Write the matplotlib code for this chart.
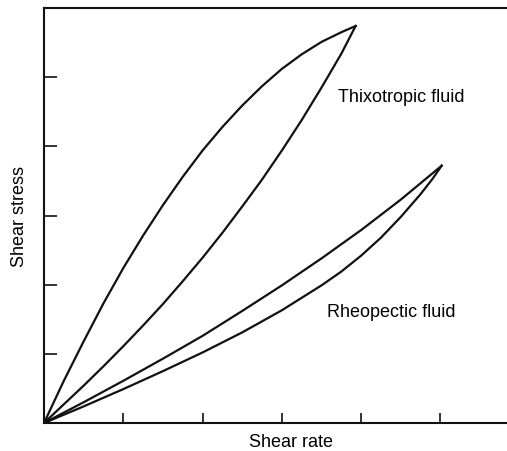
import matplotlib
matplotlib.use("Agg")
from matplotlib import pyplot as plt

plt.rcParams['font.family'] = ['Liberation Sans', 'DejaVu Sans']

# Thixotropic loop: upward (upper) and downward (lower) branch
thixo_up_x = [0.0, 0.25, 0.5, 0.75, 1.0, 1.25, 1.5, 1.75, 2.0, 2.25, 2.5,
              2.75, 3.0, 3.25, 3.5, 3.75, 3.93]
thixo_up_y = [0.0, 0.61, 1.18, 1.73, 2.24, 2.71, 3.15, 3.56, 3.94, 4.28, 4.59,
              4.87, 5.12, 5.33, 5.51, 5.65, 5.74]
thixo_down_x = [0.0, 0.25, 0.5, 0.75, 1.0, 1.25, 1.5, 1.75, 2.0, 2.25, 2.5,
                2.75, 3.0, 3.25, 3.5, 3.75, 3.93]
thixo_down_y = [0.0, 0.27, 0.54, 0.82, 1.11, 1.41, 1.72, 2.05, 2.39, 2.75, 3.13,
                3.52, 3.94, 4.38, 4.85, 5.34, 5.74]

# Rheopectic loop
rheo_up_x = [0.0, 0.5, 1.0, 1.5, 2.0, 2.5, 3.0, 3.5, 4.0, 4.5, 5.015]
rheo_up_y = [0.0, 0.30, 0.61, 0.93, 1.26, 1.62, 1.99, 2.38, 2.79, 3.23, 3.72]
rheo_down_x = [0.0, 0.5, 1.0, 1.5, 2.0, 2.5, 3.0, 3.5, 3.75, 4.0, 4.25, 4.5,
               4.75, 4.9, 5.015]
rheo_down_y = [0.0, 0.24, 0.49, 0.75, 1.02, 1.31, 1.63, 1.99, 2.19, 2.42, 2.68,
               2.98, 3.31, 3.53, 3.72]

x_ticks = [1, 2, 3, 4, 5]
y_ticks = [1, 2, 3, 4, 5]

fig = plt.figure(figsize=(5.07, 4.52), dpi=100)
ax = fig.add_axes([44 / 507, 28 / 452, 494 / 507, 415 / 452])

for xs, ys in [(thixo_up_x, thixo_up_y), (thixo_down_x, thixo_down_y),
               (rheo_up_x, rheo_up_y), (rheo_down_x, rheo_down_y)]:
    ax.plot(xs, ys, color='#111111', lw=1.6, solid_joinstyle='round')

ax.set_xlim(0, 6.23)
ax.set_ylim(0, 6)
ax.set_xticks(x_ticks)
ax.set_yticks(y_ticks)
ax.set_xticklabels([])
ax.set_yticklabels([])
ax.tick_params(axis='x', direction='in', length=7.5, width=1.2, color='#111111')
ax.tick_params(axis='y', direction='in', length=9.5, width=1.2, color='#111111')
ax.spines['right'].set_visible(False)
for s in ['left', 'bottom', 'top']:
    ax.spines[s].set_linewidth(1.5)
    ax.spines[s].set_color('#111111')

ax.set_xlabel('Shear rate', fontsize=13, labelpad=4)
ax.set_ylabel('Shear stress', fontsize=13, labelpad=8)

ax.text(3.71, 4.65, 'Thixotropic fluid', fontsize=13, va='baseline', ha='left')
ax.text(3.57, 1.54, 'Rheopectic fluid', fontsize=13, va='baseline', ha='left')

fig.savefig('out.png', dpi=100)
